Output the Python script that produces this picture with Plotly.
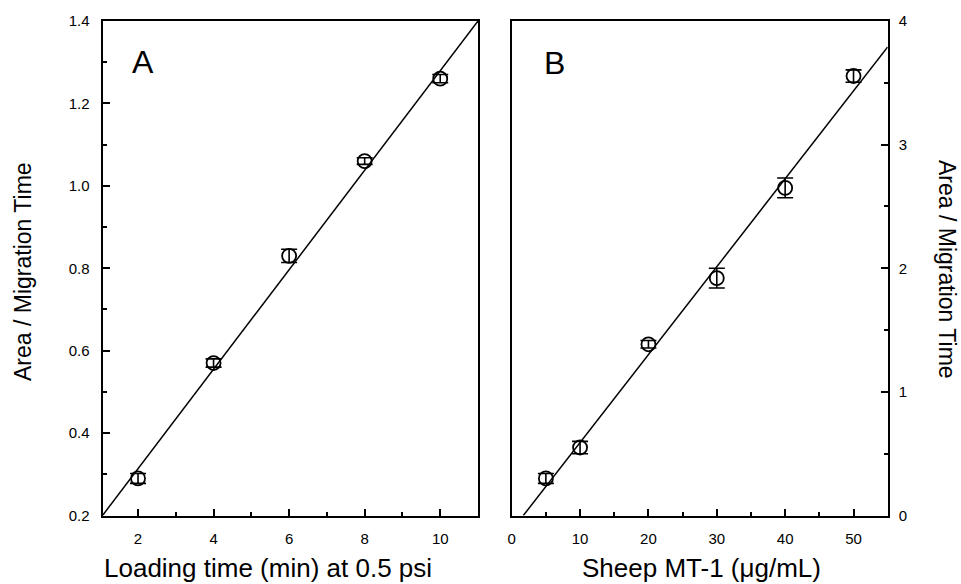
import plotly.graph_objects as go

# Panel A data
a_x = [2, 4, 6, 8, 10]
a_y = [0.29, 0.57, 0.83, 1.06, 1.26]
a_err = [0.012, 0.01, 0.016, 0.008, 0.01]
a_line_x = [1.06, 11.0]
a_line_y = [0.2, 1.4]

# Panel B data
b_x = [5, 10, 20, 30, 40, 50]
b_y = [0.30, 0.55, 1.385, 1.92, 2.65, 3.555]
b_err = [0.04, 0.05, 0.03, 0.08, 0.08, 0.05]
b_line_x = [1.7, 55.0]
b_line_y = [0.0, 3.79]

W, H = 961, 584
FONT = "Liberation Sans, Arial, Helvetica, sans-serif"

def px_x(a, b):
    return [a / W, b / W]

def px_y(top, bottom):
    return [(H - bottom) / H, (H - top) / H]

fig = go.Figure()

marker = dict(symbol="circle-open", size=14, color="black", line=dict(width=1.8, color="black"))

fig.add_trace(go.Scatter(x=a_line_x, y=a_line_y, mode="lines",
                         line=dict(color="black", width=1.5), xaxis="x", yaxis="y", showlegend=False))
fig.add_trace(go.Scatter(x=a_x, y=a_y, mode="markers", marker=marker,
                         error_y=dict(type="data", array=a_err, color="black", thickness=1.6, width=8),
                         xaxis="x", yaxis="y", showlegend=False))
fig.add_trace(go.Scatter(x=b_line_x, y=b_line_y, mode="lines",
                         line=dict(color="black", width=1.5), xaxis="x2", yaxis="y2", showlegend=False))
fig.add_trace(go.Scatter(x=b_x, y=b_y, mode="markers", marker=marker,
                         error_y=dict(type="data", array=b_err, color="black", thickness=1.6, width=8),
                         xaxis="x2", yaxis="y2", showlegend=False))

ax_common = dict(showline=True, linecolor="black", linewidth=2, mirror=True,
                 ticks="inside", ticklen=7, tickwidth=2, tickcolor="black",
                 showgrid=False, zeroline=False, automargin=False,
                 tickfont=dict(family=FONT, size=15, color="black"))
minor_common = dict(ticks="inside", ticklen=4, tickwidth=2, tickcolor="black")

fig.update_layout(
    width=W, height=H,
    margin=dict(l=0, r=0, t=0, b=0),
    paper_bgcolor="white", plot_bgcolor="white",
    xaxis=dict(domain=px_x(102.5, 478), range=[1.06, 11], tickvals=[2, 4, 6, 8, 10],
               minor=dict(tickvals=[3, 5, 7, 9], **minor_common),
               anchor="y", ticklabelstandoff=8, **ax_common),
    yaxis=dict(domain=px_y(21, 515.5), range=[0.2, 1.4], tickvals=[0.2, 0.4, 0.6, 0.8, 1.0, 1.2, 1.4],
               tickformat=".1f",
               minor=dict(tickvals=[0.3, 0.5, 0.7, 0.9, 1.1, 1.3], **minor_common),
               anchor="x", ticklabelstandoff=8, **ax_common),
    xaxis2=dict(domain=px_x(511.7, 887.7), range=[0, 55], tickvals=[0, 10, 20, 30, 40, 50],
                minor=dict(tickvals=[5, 15, 25, 35, 45], **minor_common),
                anchor="y2", ticklabelstandoff=8, **ax_common),
    yaxis2=dict(domain=px_y(21, 515.5), range=[0, 4], tickvals=[0, 1, 2, 3, 4], side="right",
                minor=dict(tickvals=[0.5, 1.5, 2.5, 3.5], **minor_common),
                anchor="x2", ticklabelstandoff=6, **ax_common),
)

# Axis titles as annotations for precise placement
yt_font = dict(family=FONT, size=23, color="black")
xt_font = dict(family=FONT, size=26, color="black")
fig.add_annotation(text="Area / Migration Time", x=23 / W, y=(H - 272) / H, xref="paper", yref="paper",
                   textangle=-90, showarrow=False, font=yt_font, xanchor="center", yanchor="middle")
fig.add_annotation(text="Area / Migration Time", x=947 / W, y=(H - 269) / H, xref="paper", yref="paper",
                   textangle=90, showarrow=False, font=yt_font, xanchor="center", yanchor="middle")
fig.add_annotation(text="Loading time (min) at 0.5 psi", x=268 / W, y=(H - 568) / H, xref="paper", yref="paper",
                   showarrow=False, font=xt_font, xanchor="center", yanchor="middle")
fig.add_annotation(text="Sheep MT-1 (μg/mL)", x=701 / W, y=(H - 568) / H, xref="paper", yref="paper",
                   showarrow=False, font=xt_font, xanchor="center", yanchor="middle")
fig.add_annotation(text="A", x=143 / W, y=(H - 62) / H, xref="paper", yref="paper",
                   showarrow=False, font=dict(family=FONT, size=32, color="black"), xanchor="center", yanchor="middle")
fig.add_annotation(text="B", x=554.5 / W, y=(H - 63) / H, xref="paper", yref="paper",
                   showarrow=False, font=dict(family=FONT, size=32, color="black"), xanchor="center", yanchor="middle")

fig.write_html("out.html")
